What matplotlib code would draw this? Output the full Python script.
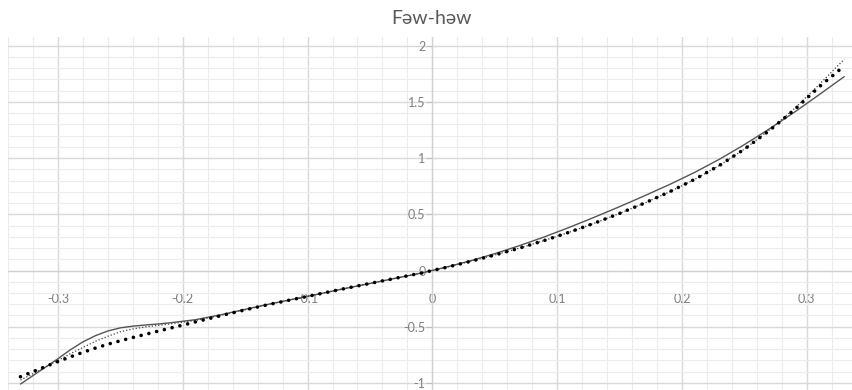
import numpy as np
import matplotlib
matplotlib.use('Agg')
import matplotlib.pyplot as plt
from matplotlib.ticker import MultipleLocator, FixedLocator

plt.rcParams['font.family'] = ['Lato', 'DejaVu Sans']

title = 'Fəw-həw'

# x positions of the sampled points (denser where the curves bend on the left)
x = [-0.33, -0.32, -0.31, -0.30, -0.29, -0.28, -0.27, -0.26, -0.25, -0.24,
     -0.23, -0.22, -0.21, -0.19, -0.17, -0.15,
     -0.13, -0.11, -0.09, -0.07, -0.05, -0.03, -0.01, 0.01, 0.03, 0.05,
     0.07, 0.09, 0.11, 0.13, 0.15, 0.17, 0.19, 0.21, 0.23, 0.25,
     0.27, 0.29, 0.31, 0.33]

# thick round-dot curve
y_thick = [-0.945, -0.90, -0.855, -0.81, -0.768, -0.728, -0.69, -0.656, -0.625, -0.596,
           -0.568, -0.54, -0.513, -0.458, -0.403, -0.35,
           -0.30, -0.253, -0.207, -0.16, -0.115, -0.07, -0.025, 0.025, 0.08, 0.138,
           0.20, 0.268, 0.342, 0.422, 0.508, 0.60, 0.70, 0.81, 0.935, 1.08,
           1.245, 1.43, 1.635, 1.82]

# thin solid curve
y_solid = [-1.01, -0.935, -0.86, -0.785, -0.705, -0.635, -0.58, -0.538, -0.51, -0.495,
           -0.485, -0.476, -0.465, -0.438, -0.395, -0.345,
           -0.297, -0.252, -0.207, -0.16, -0.115, -0.07, -0.025, 0.027, 0.085, 0.15,
           0.222, 0.30, 0.385, 0.475, 0.568, 0.665, 0.765, 0.872, 0.99, 1.12,
           1.26, 1.408, 1.565, 1.725]

# thin dotted curve
y_dot = [-0.975, -0.918, -0.86, -0.80, -0.74, -0.685, -0.63, -0.585, -0.545, -0.52,
         -0.502, -0.488, -0.475, -0.445, -0.40, -0.35,
         -0.298, -0.252, -0.206, -0.16, -0.115, -0.07, -0.025, 0.025, 0.08, 0.138,
         0.20, 0.268, 0.342, 0.422, 0.508, 0.60, 0.70, 0.81, 0.935, 1.08,
         1.25, 1.44, 1.655, 1.88]

W, H = 853, 390
fig = plt.figure(figsize=(W / 100, H / 100), dpi=100)
ax = fig.add_axes([8 / W, 0, (W - 8) / W, (H - 36.7) / H])

ax.set_xlim(-0.34, 0.337)
ax.set_ylim(-1.063, 2.08)

ax.plot(x, y_solid, color='#555555', lw=1.0, solid_capstyle='round',
        solid_joinstyle='round', zorder=3)
ax.plot(x, y_dot, color='#444444', lw=0.9, linestyle=(0, (1, 1.6)), zorder=3)
ax.plot(x, y_thick, color='black', lw=2.6, linestyle=(0, (0.01, 2.2)),
        dash_capstyle='round', zorder=4)

# grid
ax.xaxis.set_major_locator(FixedLocator([-0.3, -0.2, -0.1, 0, 0.1, 0.2, 0.3]))
ax.xaxis.set_minor_locator(MultipleLocator(0.02))
ax.yaxis.set_major_locator(FixedLocator([-1, -0.5, 0, 0.5, 1, 1.5, 2]))
ax.yaxis.set_minor_locator(FixedLocator(np.round(np.arange(-1.0, 2.01, 0.1), 2)))
ax.grid(which='major', color='#d9d9d9', lw=1.0, zorder=0)
ax.grid(which='minor', color='#ececec', lw=0.8, zorder=0)
ax.set_axisbelow(True)

for s in ['top', 'right']:
    ax.spines[s].set_visible(False)
ax.spines['left'].set_position(('data', 0))
ax.spines['bottom'].set_position(('data', 0))
ax.spines['left'].set_color('#d0d0d0')
ax.spines['bottom'].set_color('#d0d0d0')
ax.spines['left'].set_zorder(1)
ax.spines['bottom'].set_zorder(1)

ax.tick_params(which='minor', length=0)
ax.tick_params(axis='y', which='major', length=4, color='#bfbfbf', direction='out',
               labelsize=9, labelcolor='#7f7f7f', pad=1)
ax.tick_params(axis='x', which='major', length=0, labelsize=9, labelcolor='#7f7f7f', pad=16)

ax.set_xticklabels(['-0.3', '-0.2', '-0.1', '0', '0.1', '0.2', '0.3'])
ax.set_yticklabels(['-1', '-0.5', '0', '0.5', '1', '1.5', '2'])

fig.text(432 / W, 1 - 18 / H, title, ha='center', va='center', fontsize=14, color='#595959')

fig.savefig('out.png', dpi=100)
